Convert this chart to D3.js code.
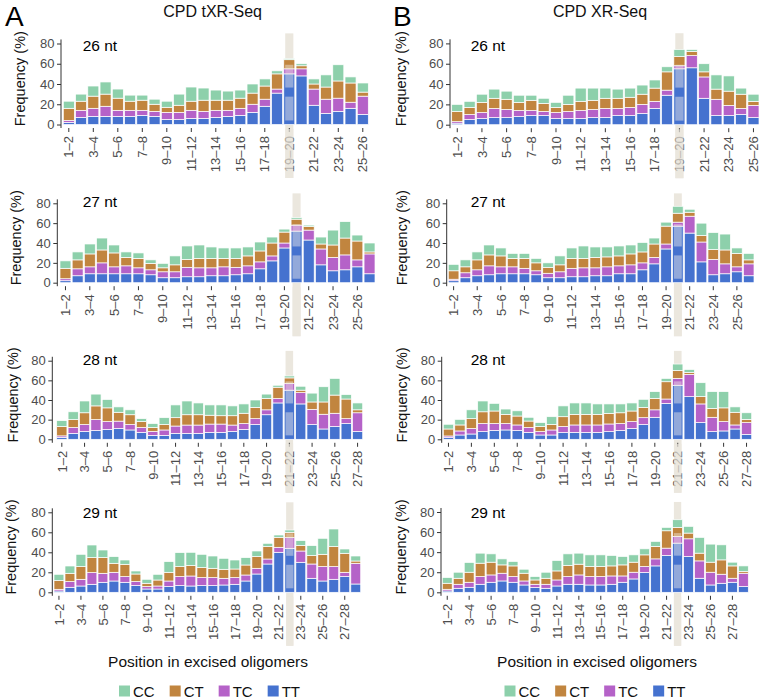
<!DOCTYPE html>
<html><head><meta charset="utf-8">
<script src="https://cdn.jsdelivr.net/npm/d3@7/dist/d3.min.js"></script>
<style>
body{margin:0;background:#fff}
svg{display:block}
text{font-family:"Liberation Sans",Arial,Helvetica,sans-serif}
</style>
</head><body>
<svg id="chart" width="762" height="700"></svg>
<script>
// ---------- DATA ----------
const positions = ["1–2","2–3","3–4","4–5","5–6","6–7","7–8","8–9","9–10","10–11","11–12","12–13","13–14","14–15","15–16","16–17","17–18","18–19","19–20","20–21","21–22","22–23","23–24","24–25","25–26","26–27","27–28","28–29"];
const tickLabels = ["1–2","3–4","5–6","7–8","9–10","11–12","13–14","15–16","17–18","19–20","21–22","23–24","25–26","27–28"];
const seriesKeys = ["TT","TC","CT","CC"];          // stacking order bottom -> top
const legendKeys = ["CC","CT","TC","TT"];
const seriesColors = {CC:"#8dd0ab", CT:"#c1853f", TC:"#b562c8", TT:"#4572cf"};
const yTicks = [0,20,40,60,80];
const columnTitles = ["CPD tXR-Seq","CPD XR-Seq"];
const columnLetters = ["A","B"];
const lengths = [26,27,28,29];
const highlighted = {26:"19–20", 27:"20–21", 28:"21–22", 29:"22–23"};

// CPD tXR-Seq
const tTT26 = [2,7,8,8,8,8,9,8,5,5,6,6,7,8,9,12,18,31,50,48,19,11,13,16,10];
const tTC26 = [2,7,8,10,6,6,5,5,7,7,8,7,7,6,7,8,7,4,5,7,16,14,13,6,18];
const tCT26 = [12,9,12,12,12,9,10,7,5,7,9,11,10,10,10,11,13,15,9,3,5,12,17,19,4];
const tCC26 = [7,7,10,12,9,6,5,5,6,11,14,12,10,9,8,9,7,3,1,2,5,12,16,6,9];

const tTT27 = [2,7,9,9,9,9,9,8,5,5,6,6,7,7,8,9,14,22,35,52,43,18,12,13,16,9];
const tTC27 = [2,7,7,11,7,8,6,5,6,6,9.5,9,8,9,7.5,8,7,5,5,6,10,16,13.5,15,7,20];
const tCT27 = [10.5,9,13,13,14,8.5,9.5,6.5,4,7,8,9.5,9.5,8.5,9,10,11,13,11,6,3.5,5,12.5,17,19,2];
const tCC27 = [7.5,8,10,12,8,5.5,5.5,3.5,4.5,9,13.5,13.5,11.5,10.5,10.5,9,9,6,3,1.5,1.5,7,15,16.5,6,9];

const tTT28 = [2,6,8,9,10,11,9.5,7,4,4,6,6,6,7,7,8,10,15,25,37,50,36,15,10.5,13,16,8];
const tTC28 = [1.5,6,7,11,8,7.5,5.5,5,4,5.5,7.5,8.5,8.5,8.5,8.5,6.5,6,6,5,4.5,7,11.5,15.5,15,13.5,5,19];
const tCT28 = [9.5,8,12,14,14,9,10,6,4,5.5,8.5,10.5,10.5,9,8.5,9.5,10.5,11.5,11.5,11.5,5.5,2.5,7.5,12.5,18.5,20,3];
const tCC28 = [6,8,12,12,8.5,5.5,5,3,4,7,13,14,12,10.5,11,10,9.5,7.5,4.5,2,2,4,9,15.5,17,4.5,7];

const tTT29 = [1.3,5,6.3,8,10,11.3,10,6.7,3.3,3.3,5.7,6.7,6.3,6.7,6.7,7.3,8,11.3,18.3,28.3,40,44,30,14,11.3,13,15.7,8.3];
const tTC29 = [1.7,5.7,6.7,11.7,9,8.7,5.7,4,2.4,3,5.6,9,10,8,8,6.7,6.7,6,5.7,5,5,10.7,11.3,14.3,14.4,12.7,4.3,20.7];
const tCT29 = [8.7,8.3,12.7,15,15.7,9,12.3,7.6,3.3,6,8.7,10,10.4,10,9.3,9,8.6,10,11.7,12.4,10,5.3,5.4,8.4,12.3,20,19,2.3];
const tCC29 = [6.3,7.3,12.3,12.6,7.6,6.7,4.3,3,4,5.7,10.7,14,13.3,13.3,12.3,11,9,7.4,5.6,3.3,2.3,2.3,5,10,16,17.6,4.3,5];

// CPD XR-Seq
const xTT26 = [1.5,5,6,7,7,8,9,9,6,6,6,7,7,9,9,11,16,29,55,56,26,9,9,10,7];
const xTC26 = [1.5,5,6,9,8,6,5,4,6,7,8,8,9,7,8,9,7,5,3,12,21,16,10,6,12];
const xCT26 = [10,7,10,10,10,8,10,8,5,7,9,9,10,10,10,10,13,18,9,4,5,10,14,14,4];
const xCC26 = [7,6,8,9,8,7,5,5,5,9,13,12,10,9,9,9,8,5,7,2,8,14,15,6,7];

const xTT27 = [2,5,7,8,9,9,9,8,5,5,6,6,7,7,9,9,13,19,34,57,50,21,8,9,11,7];
const xTC27 = [1.5,5,6,9,7,7,5.5,4,4.5,6,8.5,9,8,9,8,9,7,6.5,5,4,17,20,15.5,10,5,12];
const xCT27 = [8.5,6,10,11,11,8.5,10,8,6,7,10,9.5,10.5,10,10,11,11,13.5,18,9,4,6.5,10,14,13.5,4];
const xCC27 = [6.5,7,8,10,8,5,5,4.5,4.5,9,10.5,12.5,10.5,10,10,9,9.5,6,4,7,3,12.5,17,16,5.5,6.5];

const xTT28 = [1.7,4.4,5.4,7.8,9,9.5,9,7,4.4,4.4,6.8,7,7,7,7.8,9,11,15,22.4,36.6,55,43.4,17,7.8,8.5,10.5,5];
const xTC28 = [1.7,4.1,5.6,8.2,7,6.5,5.6,5,3.4,5.1,6.2,7.6,7.6,7.6,7.8,7,7,7,7.6,4.4,7,22.6,19,14.6,9.5,4.1,12];
const xCT28 = [7.1,6.1,10,12,12.8,9.4,9.1,6.6,5.2,5.5,10,10.8,10.8,10.8,10.8,11,10.8,10.5,11.7,17.6,8,2,7.4,9.1,14,12.9,3.3];
const xCC28 = [4.8,5.7,9,11,7.8,5.4,5.3,3.8,4,8,11,11.6,11.6,10.6,9.6,9,8.2,8.2,6.8,3.4,6.6,3,14.2,17,16.5,5.5,6.7];

const xTT29 = [1.3,4,5,8,10,11.3,10,7.3,4.7,4,6.3,8,8,7.3,7.3,8,10,13.3,19.7,26.3,36.7,49,35.7,14,7.3,9,10,5.7];
const xTC29 = [1.7,4,5,7.7,7.3,7.7,5.7,4,3.3,4,6,7.7,9.3,8.4,8.4,8.3,6.3,6.7,6,7,7.3,6.7,17.6,17.3,12.7,9,4,13.3];
const xCT29 = [6,6,10,13.3,12.7,8.3,10.6,7.7,4.3,6,9,11,10.7,10,10,10,11,10,11.6,12.4,17.3,9,5.7,7.7,10,14.3,12.3,1.7];
const xCC29 = [5.7,6,9.7,10,8.3,6,4.4,4,3.4,6,10.4,11.6,11,11.6,11.6,10.4,8.4,7.3,6,5,3.4,7.6,6.7,15.7,18,15,3.7,5.6];

const dataSets = {
  A26:{TT:tTT26,TC:tTC26,CT:tCT26,CC:tCC26}, A27:{TT:tTT27,TC:tTC27,CT:tCT27,CC:tCC27},
  A28:{TT:tTT28,TC:tTC28,CT:tCT28,CC:tCC28}, A29:{TT:tTT29,TC:tTC29,CT:tCT29,CC:tCC29},
  B26:{TT:xTT26,TC:xTC26,CT:xCT26,CC:xCC26}, B27:{TT:xTT27,TC:xTC27,CT:xCT27,CC:xCC27},
  B28:{TT:xTT28,TC:xTC28,CT:xCT28,CC:xCC28}, B29:{TT:xTT29,TC:xTC29,CT:xCT29,CC:xCC29}
};

// ---------- LAYOUT ----------
const layout = {
  A26:{axisX:61,   barL:63.3,  barR:368.3, zeroY:124.5, y80:43.5,  ylabX:20,    ntX:82.7,  ntY:50.7},
  A27:{axisX:57.3, barL:60,    barR:375,   zeroY:282.7, y80:203.3, ylabX:15.5,  ntX:82.7,  ntY:207.3},
  A28:{axisX:52.3, barL:56.7,  barR:362.7, zeroY:439.3, y80:360.7, ylabX:12.5,  ntX:82.7,  ntY:365},
  A29:{axisX:52.3, barL:54,    barR:360.7, zeroY:592.3, y80:512.3, ylabX:10.5,  ntX:82.7,  ntY:517.7},
  B26:{axisX:450,  barL:451.7, barR:759,   zeroY:124.7, y80:43.4,  ylabX:400.5, ntX:470.7, ntY:50.7},
  B27:{axisX:446.7,barL:448.3, barR:754,   zeroY:282.7, y80:203.3, ylabX:401.5, ntX:470.7, ntY:207.3},
  B28:{axisX:441.7,barL:443.3, barR:751.7, zeroY:439.3, y80:360.7, ylabX:401.5, ntX:470.7, ntY:365},
  B29:{axisX:441,  barL:442.3, barR:748.3, zeroY:592.3, y80:512,   ylabX:401,   ntX:470.7, ntY:517.7}
};
const FONT = '"Liberation Sans",Arial,Helvetica,sans-serif';
const svg = d3.select("#chart");

// column headers
[["A",5,212.6],["B",393,600]].forEach(([L,lx,tx],i)=>{
  svg.append("text").attr("x",lx).attr("y",26).attr("font-size",28).attr("fill","#000").text(columnLetters[i]);
  svg.append("text").attr("x",tx).attr("y",17).attr("font-size",16).attr("text-anchor","middle").attr("fill","#111").text(columnTitles[i]);
});

function drawPanel(col, nt){
  const key = col+nt, L = layout[key], D = dataSets[key];
  const cats = positions.slice(0, nt-1);
  const n = cats.length;
  const step = (L.barR - L.barL)/(n-0.1);
  const x = d3.scaleBand().domain(cats)
     .range([L.barL-0.05*step, L.barR+0.05*step]).paddingInner(0.1).paddingOuter(0.05);
  const y = d3.scaleLinear().domain([0,80]).range([L.zeroY, L.y80]);
  const rows = cats.map((c,i)=>({pos:c, TT:D.TT[i], TC:D.TC[i], CT:D.CT[i], CC:D.CC[i]}));
  const stacked = d3.stack().keys(seriesKeys)(rows);
  const g = svg.append("g");
  const panelBottom = L.zeroY + 3.5;

  // highlight band (behind)
  const hl = highlighted[nt];
  const bw = x.bandwidth()*0.74;
  const hx = x(hl) + (x.bandwidth()-bw)/2;
  g.append("rect").attr("x",hx).attr("width",bw)
    .attr("y",y(90)).attr("height",panelBottom+50-y(90)).attr("fill","#ebe7de");

  // bars
  stacked.forEach(s=>{
    g.append("g").selectAll("rect").data(s).join("rect")
      .attr("x",d=>x(d.data.pos)).attr("width",x.bandwidth())
      .attr("y",d=>y(d[1])).attr("height",d=>y(d[0])-y(d[1]))
      .attr("fill",seriesColors[s.key]).attr("stroke","#fff").attr("stroke-width",0.7);
  });

  // translucent overlays on highlighted bar
  const hlIdx = cats.indexOf(hl);
  const hlTop = d3.sum(seriesKeys, k=>D[k][hlIdx]);
  [[4,27.5],[36.5,59]].forEach(([a,b])=>{
    const top = Math.min(b, hlTop);
    g.append("rect").attr("x",hx).attr("width",bw)
      .attr("y",y(top)).attr("height",y(a)-y(top))
      .attr("fill","#f1eee6").attr("opacity",0.45);
  });

  // y axis
  const ya = g.append("g").attr("transform",`translate(${L.axisX},0)`)
    .call(d3.axisLeft(y).tickValues(yTicks).tickSize(4).tickPadding(2.5).tickSizeOuter(0));
  ya.select(".domain").remove();
  ya.append("line").attr("x1",0).attr("x2",0).attr("y1",y(84)).attr("y2",panelBottom)
    .attr("stroke","#333").attr("stroke-width",1);
  ya.attr("font-family",FONT).attr("font-size",13);
  ya.selectAll(".tick line").attr("stroke","#333");
  ya.selectAll(".tick text").attr("fill","#4d4d4d");

  // x axis
  const xa = g.append("g").attr("transform",`translate(0,${panelBottom})`)
    .call(d3.axisBottom(x).tickValues(tickLabels.filter(t=>cats.includes(t))).tickSize(4).tickSizeOuter(0));
  xa.select(".domain").remove();
  xa.attr("font-family",FONT).attr("font-size",13);
  xa.selectAll(".tick line").attr("stroke","#333");
  xa.selectAll(".tick text").attr("fill","#4d4d4d")
    .attr("transform","rotate(-90)").attr("text-anchor","end")
    .attr("x",-8).attr("y",0).attr("dy","0.36em");

  // band veil over the label area
  g.append("rect").attr("x",hx).attr("width",bw)
    .attr("y",panelBottom+1).attr("height",49).attr("fill","#ebe7de").attr("opacity",0.7);

  // nt label
  g.append("text").attr("x",L.ntX).attr("y",L.ntY).attr("font-size",15.5).attr("fill","#000").text(nt+" nt");

  // y title
  const cy = (y(90)+panelBottom)/2 - 2;
  g.append("text").attr("transform",`translate(${L.ylabX+5},${cy}) rotate(-90)`)
    .attr("text-anchor","middle").attr("font-size",14.5).attr("fill","#111").text("Frequency (%)");
}

["A","B"].forEach(col=>lengths.forEach(nt=>drawPanel(col,nt)));

// x titles + legends
[["A",208],["B",597]].forEach(([col,cx],i)=>{
  svg.append("text").attr("x",cx).attr("y",667).attr("text-anchor","middle")
    .attr("font-size",15.5).attr("fill","#111").text("Position in excised oligomers");
  const lg = svg.append("g");
  let xpos = 0;
  legendKeys.forEach(k=>{
    lg.append("rect").attr("x",xpos).attr("y",685.5).attr("width",11).attr("height",11)
      .attr("fill",seriesColors[k]);
    const t = lg.append("text").attr("x",xpos+14).attr("y",697).attr("font-size",15)
      .attr("fill","#111").text(k);
    xpos += 14 + t.node().getComputedTextLength() + 15;
  });
  const total = xpos - 15;
  const lcx = i===0 ? 209.5 : 595;
  lg.attr("transform",`translate(${lcx-total/2},0)`);
});
</script>
</body></html>
